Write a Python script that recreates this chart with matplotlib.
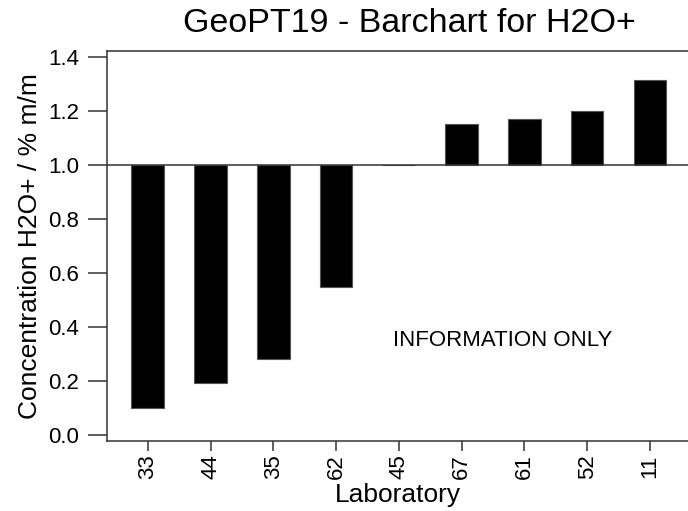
import matplotlib
matplotlib.use("Agg")
import matplotlib.pyplot as plt
import numpy as np

labs = ["33", "44", "35", "62", "45", "67", "61", "52", "11"]
values = [0.10, 0.193, 0.282, 0.55, 1.0, 1.152, 1.17, 1.202, 1.316]
assigned = 1.0
yticks = [0.0, 0.2, 0.4, 0.6, 0.8, 1.0, 1.2, 1.4]

plt.rcParams['font.family'] = ['Liberation Sans', 'DejaVu Sans']

fig = plt.figure(figsize=(6.88, 5.11), dpi=100)
ax = fig.add_axes([106.7/688, 1-440.7/511, 1-106.7/688 + 0.002, (440.7-51)/511])

x = np.arange(len(labs))
heights = [v - assigned for v in values]
ax.bar(x, heights, bottom=assigned, width=0.52, color='black', edgecolor='#555555', linewidth=0.8)
ax.axhline(assigned, color='#333333', linewidth=1.1)

ax.set_xlim(-0.654, 8.63)
ax.set_ylim(-0.02, 1.423)
ax.set_xticks(x)
ax.set_xticklabels(labs, rotation=90, fontsize=16)
ax.set_yticks(yticks)
ax.set_yticklabels([f"{t:.1f}" for t in yticks], fontsize=16)
ax.tick_params(axis='y', length=14, width=1.1, color='#333333', pad=6)
ax.tick_params(axis='x', length=7, width=1.1, color='#333333', pad=3)
for s in ['left', 'top', 'bottom']:
    ax.spines[s].set_color('#333333')
    ax.spines[s].set_linewidth(1.1)
ax.spines['right'].set_visible(False)

fig.text(398/688, 1 - 502/511, "Laboratory", fontsize=19, ha='center', va='baseline')
ax.set_ylabel("Concentration H2O+ / % m/m", fontsize=19, labelpad=4)
fig.text(409/688, 1 - 24/511, "GeoPT19 - Barchart for H2O+", fontsize=24.5, ha='center', va='center')
ax.text(5.65, 0.35, "INFORMATION ONLY", fontsize=16, ha='center', va='center')

fig.savefig("out.png", dpi=100)
